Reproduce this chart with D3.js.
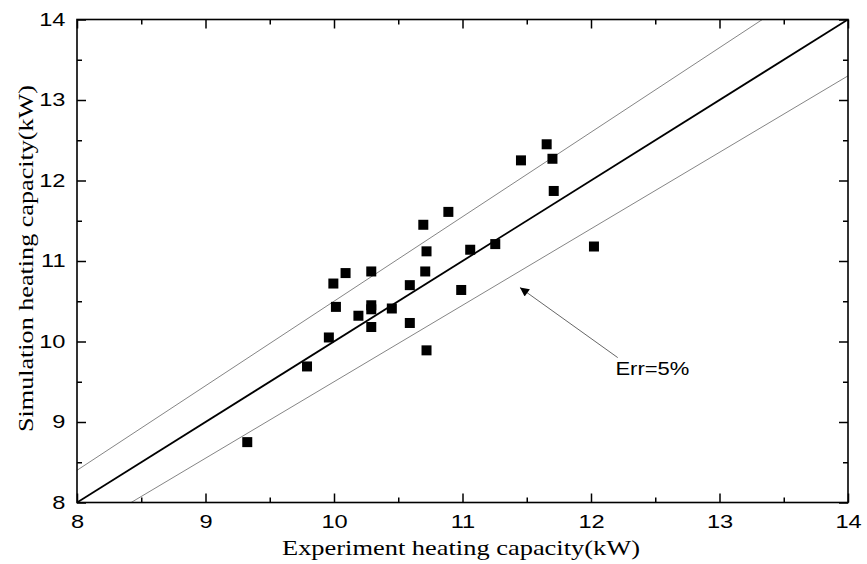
<!DOCTYPE html>
<html>
<head>
<meta charset="utf-8">
<script src="https://cdn.jsdelivr.net/npm/d3@7/dist/d3.min.js"></script>
<style>
  body { margin: 0; background: #fff; }
  .tick text { font-family: "Liberation Sans", Arial, sans-serif; font-size: 17.5px; fill: #000; }
</style>
</head>
<body>
<div id="chart"></div>
<script>
// measured points (experiment, simulation) in kW
var expX = [9.325, 9.79, 9.96, 9.995, 10.015, 10.09, 10.19, 10.29, 10.29, 10.29, 10.29, 10.45,
            10.59, 10.59, 10.695, 10.71, 10.72, 10.72, 10.89, 10.99, 11.06, 11.255,
            11.455, 11.655, 11.70, 11.71, 12.023];
var simY = [8.75, 9.69, 10.05, 10.72, 10.43, 10.85, 10.32, 10.87, 10.45, 10.40, 10.18, 10.41,
            10.70, 10.23, 11.45, 10.87, 11.12, 9.89, 11.61, 10.64, 11.14, 11.21,
            12.25, 12.45, 12.27, 11.87, 11.18];
var tickVals = [8, 9, 10, 11, 12, 13, 14];
var minorVals = [8.5, 9.5, 10.5, 11.5, 12.5, 13.5];
var errRate = 0.05;

var width = 867, height = 564;
var margin = {top: 19.5, right: 19, bottom: 61.5, left: 77};
var w = width - margin.left - margin.right,
    h = height - margin.top - margin.bottom;
var stretch = 1.35;   // the original figure is drawn wide

var svg = d3.select("#chart").append("svg")
    .attr("width", width)
    .attr("height", height);

var g = svg.append("g")
    .attr("transform", "translate(" + margin.left + "," + margin.top + ")");

var x = d3.scaleLinear().domain([8, 14]).range([0, w]);
var y = d3.scaleLinear().domain([8, 14]).range([h, 0]);

g.append("defs").append("clipPath").attr("id", "clip")
  .append("rect").attr("width", w).attr("height", h);

var lines = g.append("g").attr("clip-path", "url(#clip)");

// +-5% lines
[1 + errRate, 1 - errRate].forEach(function(k){
  lines.append("line")
      .attr("x1", x(8)).attr("y1", y(8 * k))
      .attr("x2", x(14)).attr("y2", y(14 * k))
      .attr("stroke", "#777").attr("stroke-width", 0.9);
});

// y = x
lines.append("line")
    .attr("x1", x(8)).attr("y1", y(8))
    .attr("x2", x(14)).attr("y2", y(14))
    .attr("stroke", "#000").attr("stroke-width", 1.8);

// points
g.selectAll("rect.pt")
    .data(expX)
  .enter().append("rect")
    .attr("class", "pt")
    .attr("x", function(d){ return x(d) - 5; })
    .attr("y", function(d,i){ return y(simY[i]) - 5; })
    .attr("width", 10).attr("height", 10)
    .attr("fill", "#000");

// axes (ticks inside, mirrored)
function styleAxis(sel){
  sel.select(".domain").remove();
  sel.selectAll(".tick line").attr("stroke", "#000").attr("stroke-width", 1.5);
}
g.append("g").attr("transform", "translate(0," + h + ")")
    .call(d3.axisBottom(x).tickValues(tickVals).tickFormat(d3.format("d")).tickSizeInner(-9).tickPadding(13.5))
    .call(styleAxis)
    .selectAll(".tick text").attr("transform", "scale(" + stretch + ",1)");
g.append("g").attr("transform", "translate(0," + h + ")")
    .call(d3.axisBottom(x).tickValues(minorVals).tickFormat("").tickSizeInner(-5))
    .call(styleAxis);
g.append("g")
    .call(d3.axisTop(x).tickValues(tickVals).tickFormat("").tickSizeInner(-9))
    .call(styleAxis);
g.append("g")
    .call(d3.axisTop(x).tickValues(minorVals).tickFormat("").tickSizeInner(-5))
    .call(styleAxis);
g.append("g")
    .call(d3.axisLeft(y).tickValues(tickVals).tickFormat(d3.format("d")).tickSizeInner(-9))
    .call(styleAxis)
    .selectAll(".tick text")
    .attr("x", -11.5 / stretch)
    .attr("transform", "scale(" + stretch + ",1)");
g.append("g")
    .call(d3.axisLeft(y).tickValues(minorVals).tickFormat("").tickSizeInner(-5))
    .call(styleAxis);
g.append("g").attr("transform", "translate(" + w + ",0)")
    .call(d3.axisRight(y).tickValues(tickVals).tickFormat("").tickSizeInner(-9))
    .call(styleAxis);
g.append("g").attr("transform", "translate(" + w + ",0)")
    .call(d3.axisRight(y).tickValues(minorVals).tickFormat("").tickSizeInner(-5))
    .call(styleAxis);

g.append("rect")
    .attr("width", w).attr("height", h)
    .attr("fill", "none").attr("stroke", "#000").attr("stroke-width", 1.6);

// annotation
var defs = svg.append("defs");
defs.append("marker").attr("id", "arrow")
    .attr("viewBox", "0 0 10 10").attr("refX", 10).attr("refY", 5)
    .attr("markerWidth", 12).attr("markerHeight", 9).attr("markerUnits", "userSpaceOnUse")
    .attr("orient", "auto")
  .append("path").attr("d", "M0,0L10,5L0,10z").attr("fill", "#000");

g.append("line")
    .attr("x1", x(12.208)).attr("y1", y(9.8))
    .attr("x2", x(11.447)).attr("y2", y(10.67))
    .attr("stroke", "#555").attr("stroke-width", 0.9)
    .attr("marker-end", "url(#arrow)");

g.append("text")
    .attr("x", x(12.19)).attr("y", y(9.58))
    .attr("font-family", "Liberation Sans, Arial, sans-serif")
    .attr("font-size", 18)
    .attr("textLength", 74)
    .attr("lengthAdjust", "spacingAndGlyphs")
    .text("Err=5%");

// axis titles
svg.append("text")
    .attr("x", 282).attr("y", 555)
    .attr("font-family", "Liberation Serif, Times New Roman, serif")
    .attr("font-size", 21)
    .attr("textLength", 358)
    .attr("lengthAdjust", "spacingAndGlyphs")
    .text("Experiment heating capacity(kW)");

svg.append("text")
    .attr("transform", "translate(33,432) rotate(-90)")
    .attr("font-family", "Liberation Serif, Times New Roman, serif")
    .attr("font-size", 21)
    .attr("textLength", 347)
    .attr("lengthAdjust", "spacingAndGlyphs")
    .text("Simulation heating capacity(kW)");
</script>
</body>
</html>
